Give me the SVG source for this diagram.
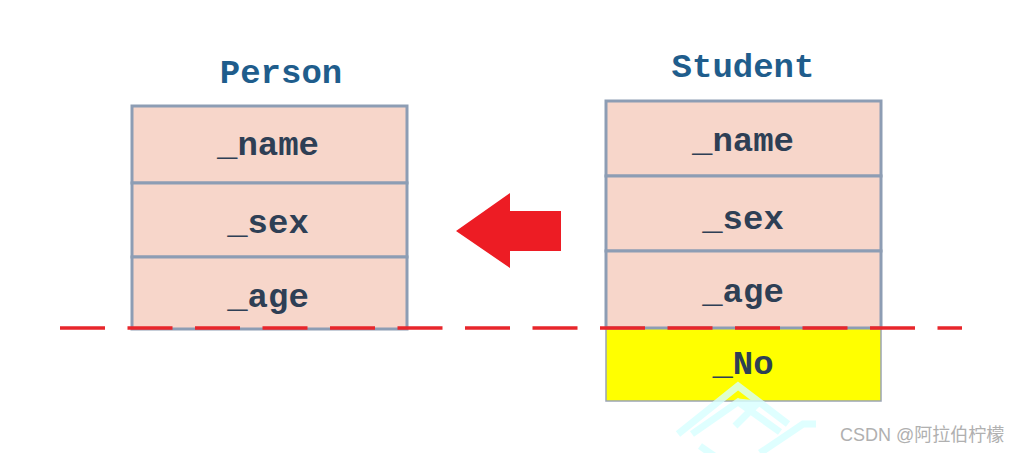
<svg xmlns="http://www.w3.org/2000/svg" width="1014" height="453" viewBox="0 0 1014 453">
<style>
.cell{fill:#f7d6ca;stroke:#8d9db4;stroke-width:3}
.yel{fill:#ffff00;stroke:#9aa4b4;stroke-width:1.5}
.title{font-family:"Liberation Mono",monospace;font-weight:bold;font-size:34px;fill:#1f5d8c;text-anchor:middle}
.fld{font-family:"Liberation Mono",monospace;font-weight:bold;font-size:34px;fill:#2e3f55;text-anchor:middle}
.wm{font-family:"Liberation Sans","Noto Sans CJK SC",sans-serif;font-size:18px;fill:#b0b0b0}
</style>
<rect width="1014" height="453" fill="#ffffff"/>
<g id="person">
<text class="title" x="281" y="83">Person</text>
<rect class="cell" x="132" y="106" width="275" height="77"/>
<rect class="cell" x="132" y="183" width="275" height="74"/>
<rect class="cell" x="132" y="257" width="275" height="72"/>
<text class="fld" x="268" y="155">_name</text>
<text class="fld" x="268" y="233">_sex</text>
<text class="fld" x="268" y="307">_age</text>
</g>
<g id="student">
<text class="title" x="743" y="77">Student</text>
<rect class="yel" x="606" y="328" width="275" height="73"/>
<rect class="cell" x="606" y="101" width="275" height="75"/>
<rect class="cell" x="606" y="176" width="275" height="75"/>
<rect class="cell" x="606" y="251" width="275" height="77"/>
<text class="fld" x="743" y="151">_name</text>
<text class="fld" x="743" y="229">_sex</text>
<text class="fld" x="743" y="302">_age</text>
<text class="fld" x="743" y="374">_No</text>
</g>
<g id="connectors">
<line x1="60" y1="328" x2="962" y2="328" stroke="#e8262b" stroke-width="3.5" stroke-dasharray="45 22.5"/>
<polygon points="456,231 510,193 510,211 561,211 561,251 510,251 510,268" fill="#ed1c24"/>
</g>
<g id="watermark-shape" fill="none" stroke="#d8ffff" stroke-width="7" opacity="0.8">
<polyline points="678,434 738,386 788,424"/>
<polyline points="692,434 738,402 780,432"/>
<polyline points="738,402 757,404 735,426"/>
<polyline points="700,446 720,460"/>
<polyline points="760,453 803,424 816,424"/>
</g>
<text class="wm" x="840" y="441">CSDN @阿拉伯柠檬</text>
</svg>
